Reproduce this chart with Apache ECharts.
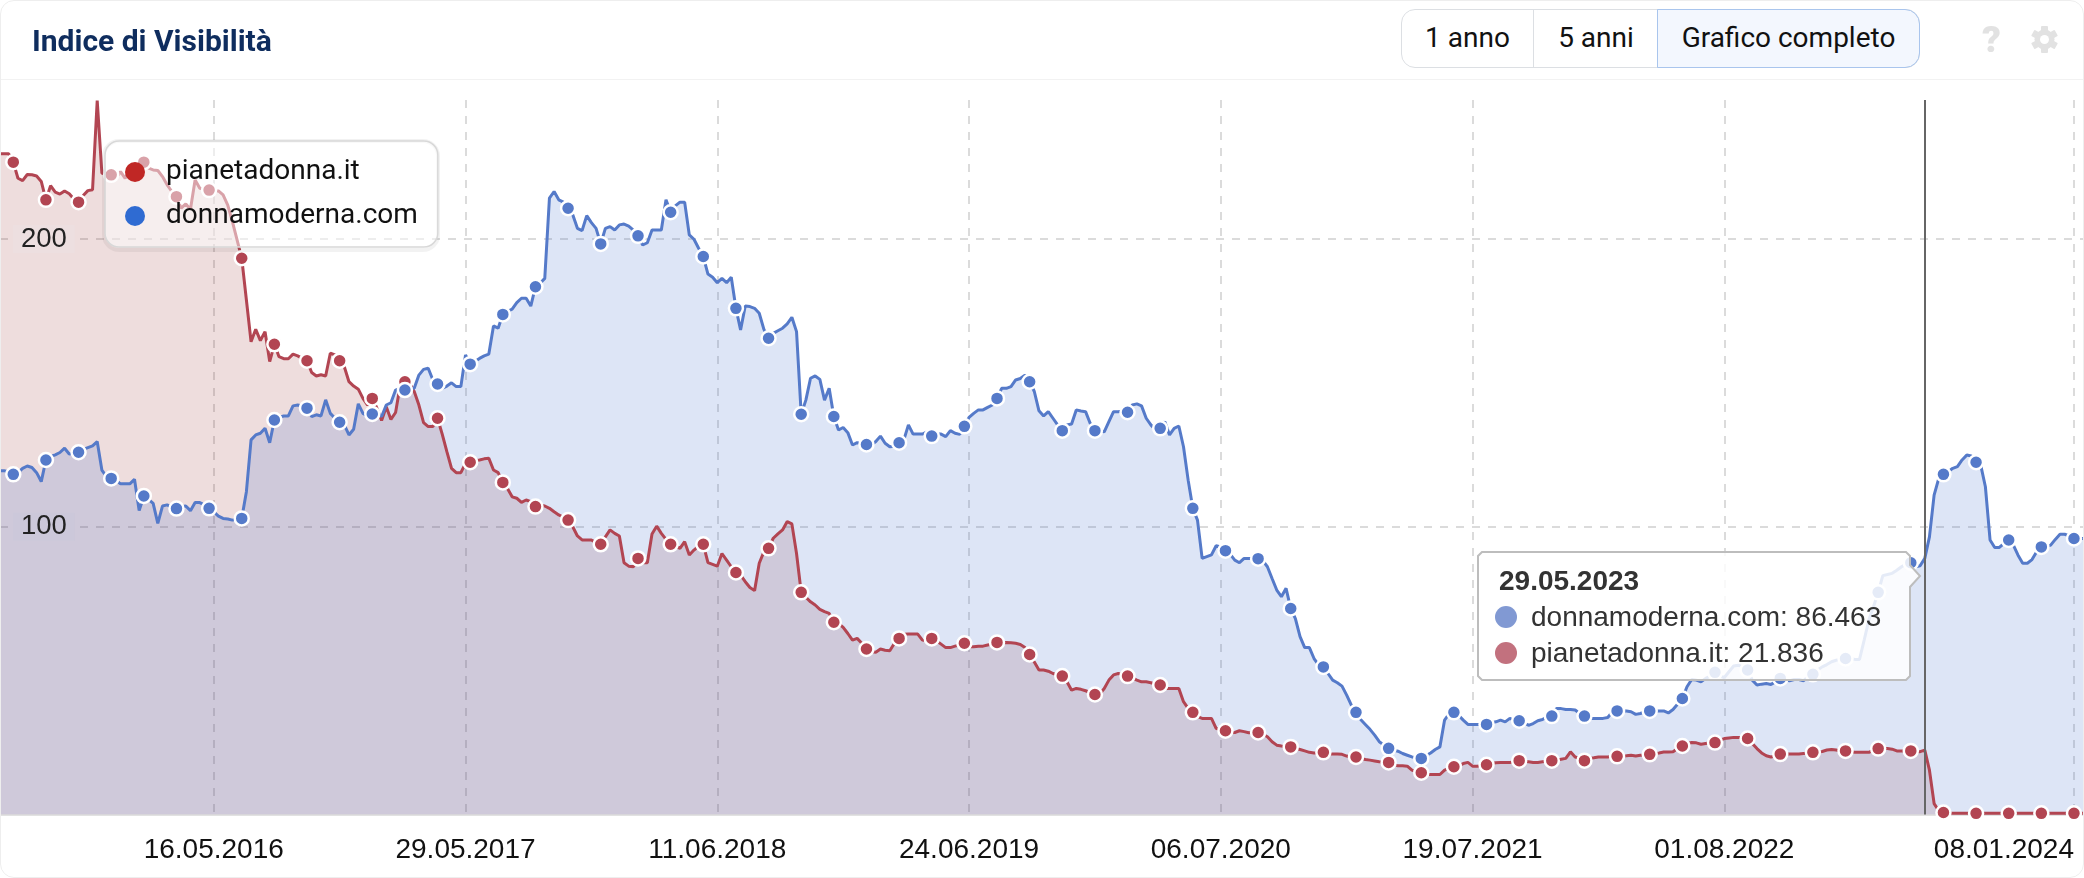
<!DOCTYPE html>
<html lang="it">
<head>
<meta charset="utf-8">
<title>Indice di Visibilità</title>
<script src="https://cdn.jsdelivr.net/npm/echarts@6/dist/echarts.min.js"></script>
<style>
  html, body { margin: 0; padding: 0; background: #fff; }
  #card { position: relative; width: 2084px; height: 878px; box-sizing: border-box; overflow: hidden; }
  #card-frame { position: absolute; inset: 0; border: 1px solid #eeeeee; border-radius: 14px; pointer-events: none; }
  #head-line { position: absolute; left: 0; right: 0; top: 79px; height: 1px; background: #f2f2f2; }
  #chart { position: absolute; left: 0; top: 0; width: 2084px; height: 878px; }
  .range { position: absolute; left: 1401px; top: 9px; width: 519px; height: 59px; display: flex; box-sizing: border-box;
           border: 1px solid #dcdfe3; border-radius: 14px; font: 28px Roboto, sans-serif; color: #111; background: #fff; }
  .range div { display: flex; align-items: center; justify-content: center; box-sizing: border-box; padding-bottom: 2px; }
  .range .a { width: 132px; border-right: 1px solid #dcdfe3; }
  .range .b { width: 124px; }
  .range .c { flex: 1; background: #f3f7fe; outline: 1px solid #a9c5ed; border-radius: 0 14px 14px 0; }
  #help { position: absolute; left: 1982px; top: 18px; font: 900 37px Roboto, sans-serif; color: #e2e2e2; }
  #gear { position: absolute; left: 2030px; top: 25px; width: 29px; height: 29px; }
</style>
</head>
<body>
<div id="card">
  <div id="chart"></div>
  <div id="head-line"></div>
  <div class="range"><div class="a">1 anno</div><div class="b">5 anni</div><div class="c">Grafico completo</div></div>
  <div id="help">?</div>
  <svg id="gear" viewBox="0 0 29 29">
    <g fill="#e2e2e2">
      <rect x="11" y="1" width="7" height="27" rx="1"/>
      <rect x="11" y="1" width="7" height="27" rx="1" transform="rotate(60 14.5 14.5)"/>
      <rect x="11" y="1" width="7" height="27" rx="1" transform="rotate(120 14.5 14.5)"/>
      <circle cx="14.5" cy="14.5" r="10"/>
    </g>
    <circle cx="14.5" cy="14.5" r="4.5" fill="#fff"/>
  </svg>
  <div id="card-frame"></div>
</div>
<script>
// settimane a partire dal 29.06.2015, un valore a settimana
const firstWeek = Date.UTC(2015, 5, 29);

const pianetadonna = [
  229.6,229.6,229.6,226.7,221.1,220.3,222.4,222.3,221.9,220,
  213.6,218.5,216.3,215.6,216.7,215.7,213.9,212.8,215.1,216.8,
  217.1,248.1,222.9,222.3,222.3,221.1,223.4,221.1,224.6,225.2,
  225.8,226.7,224.6,224,223.8,221.7,218.8,216.5,214.7,210.7,
  212.2,210.3,220.5,217.6,217.3,217,216.8,216.7,215.3,211.8,
  206,199.7,193.3,178.8,164.3,168.6,164.7,167.8,157.4,163.4,
  159.1,158.4,158.4,160,159.4,158.5,157.7,153.6,152.4,152.8,
  152.4,160.3,159.7,157.7,155.6,150.4,148.9,147.8,144.6,142.3,
  144.6,141.2,136.9,141.7,137.3,139.7,149.3,150.4,149.9,147,
  142.3,136.2,134.8,134.8,137.7,132.2,126.1,120.3,118.8,118.8,
  122,122.4,122.9,123.2,123.6,123.8,119.7,118.8,115.4,113.3,
  110.4,109.9,108.5,109.3,108.7,107,107.5,107.2,106.4,105.2,
  104.1,103.3,102.3,100,96.8,95.4,95.4,95.4,94.5,93.9,
  96.5,98.9,97.7,96.8,87.5,86.3,86.1,89,87.5,87.5,
  97.5,100.2,97.7,95.6,93.9,93.3,92.5,94.8,90.2,91.9,
  93.3,93.9,87.5,86.9,86.3,90.7,88.4,86.1,84.1,83.2,
  80.9,78.9,77.8,87.3,91.3,92.5,96,97.5,98.9,101.8,
  101,90.7,77.2,75.5,73.9,72.8,71.3,70.5,69.9,66.8,
  66.4,65,62.9,60.6,61.2,59.5,57.5,56.6,56.4,57.5,
  57.1,56.9,59.5,61.2,62.6,62.7,62.7,62.7,60.6,60.4,
  61.2,60.4,59.2,58,58,58.5,58.9,59.5,58.3,58.3,
  58.5,58.5,58.9,59.2,59.8,59.7,59.8,59.7,59.5,59.1,
  58,55.6,53,50.2,50.2,49.8,49,48.5,48.1,46.1,
  43.2,43.8,43.5,43,42.4,41.7,41.8,43.8,46.7,48.5,
  49,48.7,48.1,47.5,46.7,46.1,46.1,45.8,45.3,45,
  43.8,43.8,43.8,43.8,39.2,36.9,35.5,34,33.4,33.4,
  33.4,29.9,29.3,29.1,28.4,28.5,29.1,28.8,28.4,28.4,
  28.5,27.9,27,25.3,24.1,23.8,23.6,23.5,23,22.6,
  22.1,21.6,21.4,21.4,21.6,21,21,21,20.9,20.3,
  20,20,19.5,19.1,18.9,18.6,18.3,18.2,18.1,17.4,
  16.9,16.9,16.8,15.4,14.8,14.5,13.9,13.9,13.9,13.9,
  15.4,16,16.6,16.9,17.7,18.1,16.8,16.8,17,17.3,
  17.7,18,18.1,18.1,18.1,18.3,18.7,18.5,18.3,18.1,
  18.1,18.3,18.5,18.7,18.9,19.2,19.5,21.8,20,19.5,
  18.7,19.5,19.7,20,20,20,20.2,20.2,20.3,20.4,
  20.6,20.3,20.6,20.6,20.9,21.2,21.4,21.7,21.7,21.8,
  22.9,23.8,24.7,25,24.9,24.4,24.7,24.9,25,25.8,
  26.4,26.6,26.8,26.8,26.8,26.4,24.7,22.9,21.4,20.4,
  20,20.3,21,21,21,21,21,21.2,21.4,21.6,
  21.7,21.9,22.4,22.6,22.4,22.1,22.1,21.8,21.6,21.6,
  21.6,21.6,22.4,22.9,22.9,22.9,22.7,22.1,22.1,22.1,
  22.1,21.8,21.836,22.4,15.4,3.8,1.3,0.7,0.5,0.4,
  0.4,0.4,0.4,0.4,0.4,0.4,0.4,0.4,0.4,0.4,
  0.4,0.4,0.4,0.4,0.4,0.4,0.4,0.4,0.4,0.4,
  0.4,0.4,0.4,0.4,0.4,0.4,0.4,0.4
];

const donnamoderna = [
  119.5,119.5,119.1,118.2,118.8,120.3,121.1,120.6,118.8,115.7,
  123.2,124.4,125,125.8,127.3,125.3,125.5,125.9,126.9,127.5,
  128.1,129.6,119.7,117.4,116.8,116.2,114.9,114.9,114.9,116.5,
  105.6,110.7,109.5,108.1,101.2,107.2,107.6,106.8,106.3,107,
  107.2,105.6,108.4,108.4,107.6,106.4,105.2,103.7,102.9,102.7,
  102.3,102.6,102.9,112.2,130.2,131.9,132.5,134.2,129.2,137.1,
  138,138.5,138.5,142,142.3,142,141.2,138.3,138.9,138.5,
  144.1,139.4,137.7,136.3,135.4,131.9,133.9,142.7,139.4,138.5,
  139.2,139.4,138.3,142.3,143.1,147.5,148.1,147.5,148.1,148.1,
  152.7,154.7,155.1,151,149.6,148.1,148.9,150,148.7,148.7,
  159.7,156.5,157.4,158.5,159.4,160,169.8,169,173.8,174.8,
  175.6,177.9,179.4,179.4,176.7,183.4,184.6,186.3,214.2,216.5,
  213.6,212.8,210.7,208.4,203.7,202.9,208.1,205.7,203.7,198.3,
  203.7,204.3,203.1,204.9,205.2,204.5,203.1,201.1,197.9,198.7,
  203.1,203.1,203.1,213.6,209.3,211.5,212.8,212.8,201.4,199.9,
  196.8,193.9,187.8,186.7,184.8,186.3,184.8,186.7,175.9,168.4,
  176.7,176.5,175.9,174.2,168.6,165.5,167.2,168.1,169,170.5,
  172.8,167.8,139.1,144,151.6,152.4,151.2,144,148.1,138.3,
  133.6,134.5,132.7,128.4,129.2,129,128.6,128.4,129.6,131.5,
  129,127.8,128,129.2,130.1,135.4,132.2,132.2,132.2,133,
  131.5,132.2,132.2,131.3,133.4,132.5,132.1,134.9,138,139.4,
  140.6,140.6,141.5,142.3,144.6,148.1,148.1,148.7,151,151.5,
  152.7,150.4,147,140.3,138.5,140,137.7,135.4,133.4,135.4,
  135.7,140.6,140.2,140,135.9,133.4,133.3,133,136.5,140,
  140,140.2,139.8,142.3,142.7,142,137.7,135.4,133.6,134.2,
  136.5,131.9,134.2,135,127.8,116.2,106.4,102.3,89,89.6,
  90.2,93.4,93,91.7,90.5,88.4,87.5,89,89,89,
  88.9,88.2,86.1,82,78,75.7,78.6,71.6,68.1,61.8,
  58,58,54.2,51.9,51.3,49,46.7,45.8,44.6,41.5,
  38,35.5,33,31.3,29.6,27.6,25.3,24.1,23,22.4,
  22,21.2,20.6,20,19.8,19.5,20.4,21.4,22.6,23.5,
  32.8,35.1,35.5,34.5,32.8,31.3,31.3,31.3,31.3,31.3,
  31.9,32.2,32.8,32.2,33.4,32.8,32.6,31.9,31,31.6,
  32.6,33,34,34.2,36.8,36.8,36.5,36.5,36.3,35.1,
  34.2,33.4,33.4,33.4,33.4,33.7,35.7,36,36,36,
  35.7,34.8,35.1,35.7,36,36,36,36,35.3,36.5,
  38.4,40.3,44.4,46.9,46.7,46.1,47.3,48.1,49.4,48.2,
  47.6,49.6,51.6,51.9,51.3,50.2,46.7,45,45.3,45.5,
  45.2,46.1,47.3,46.7,46.5,46.9,46.9,46.5,47.9,48.7,
  50.2,51.3,52.1,53.1,53.6,54,54.2,54.2,53.9,53.9,
  60.6,67.6,72.2,77.2,83,83.4,83.8,84.9,86.1,87,
  87.5,86.1,86.463,89,96.5,111,116.8,118.2,119.1,120.3,
  120.9,123.2,124.9,124.6,122.4,121.4,113.9,95.4,92.8,92.8,
  94.2,95.4,93.6,90.1,87.3,87.3,88.6,91.3,93,93,
  93.6,95.6,97.4,97.4,96.8,95.9,95.9,95.9
];

// settimane con il pallino
const markerWeeks = [
  3,10,17,24,31,38,45,52,59,66,73,80,87,94,101,108,115,122,129,
  137,144,151,158,165,172,179,186,193,200,207,214,221,228,235,242,249,256,263,270,
  277,284,291,298,305,312,319,326,333,340,347,354,361,368,375,382,389,396,403,410,
  417,424,431,438,445
];

const xTicks = ['2016-05-16','2017-05-29','2018-06-11','2019-06-24','2020-07-06','2021-07-19','2022-08-01','2024-01-08'];
const yTicks = [100, 200];
const hoverDate = '2023-05-29';
const hoverWeek = 412;
const hoverLabel = '29.05.2023';
const titleText = 'Indice di Visibilità';
const redName = 'pianetadonna.it';
const blueName = 'donnamoderna.com';

const week = 7 * 24 * 3600 * 1000;
const toTime = function (d) { return new Date(d + 'T00:00:00Z').getTime(); };
const pad = function (n) { return (n < 10 ? '0' : '') + n; };
const fmtDate = function (t) {
  let d = new Date(t);
  return pad(d.getUTCDate()) + '.' + pad(d.getUTCMonth() + 1) + '.' + d.getUTCFullYear();
};
const weekly = function (values) {
  return values.map(function (v, i) { return [firstWeek + i * week, v]; });
};
const markers = function (values) {
  return markerWeeks.map(function (w) { return [firstWeek + w * week, values[w]]; });
};
const fmtValue = function (v) { return v.toFixed(3); };

const redLine = '#b24552', blueLine = '#557ac9';

function areaSeries(name, values, color, opacity) {
  return {
    name: name, type: 'line', data: weekly(values), showSymbol: false, silent: true,
    lineStyle: { width: 0 }, itemStyle: { color: color }, z: 2,
    areaStyle: { color: color, opacity: opacity }
  };
}
function lineSeries(name, values, color, extra) {
  return Object.assign({
    name: name, type: 'line', data: weekly(values), showSymbol: false, silent: true,
    lineStyle: { width: 3, color: color }, itemStyle: { color: color }, z: 3
  }, extra || {});
}
function markerSeries(name, values, color) {
  return {
    name: name, type: 'scatter', data: markers(values), symbol: 'circle', symbolSize: 14, silent: true,
    itemStyle: { color: color, borderColor: '#fff', borderWidth: 2.5, opacity: 1 }, z: 4
  };
}

// riquadro del tooltip con la freccia verso il punto
const boxPoints = [[1482,552],[1906,552],[1910,556],[1910,565],[1920,576],[1910,587],[1910,676],[1906,680],[1482,680],[1478,676],[1478,556]];

const chart = echarts.init(document.getElementById('chart'));
chart.setOption({
  animation: false,
  title: {
    text: titleText, left: 27, top: 23,
    textStyle: { fontFamily: 'Roboto', fontSize: 30, fontWeight: 'bold', color: '#0f2d5e' }
  },
  legend: {
    left: 105, top: 141, orient: 'vertical', selectedMode: false, z: 10,
    padding: [17, 20, 17, 20], itemGap: 16, itemWidth: 20, itemHeight: 20,
    backgroundColor: 'rgba(255,255,255,0.5)', borderColor: '#d8d8d8', borderWidth: 1.5, borderRadius: 14,
    textStyle: { fontFamily: 'Roboto', fontSize: 28, color: '#111', padding: [0, 0, 0, 16] },
    data: [
      { name: redName, icon: 'circle', itemStyle: { color: '#c02725' } },
      { name: blueName, icon: 'circle', itemStyle: { color: '#2f6bd2' } }
    ]
  },
  grid: { left: 0, right: 0, top: 100, bottom: 63.5 },
  xAxis: {
    type: 'value',
    min: firstWeek + 0.15 * week,
    max: firstWeek + 447.15 * week,
    axisLine: { show: true, onZero: false, lineStyle: { color: '#e2e2e2', width: 2 } },
    axisTick: { show: false, customValues: xTicks.map(toTime) },
    splitLine: { show: true, lineStyle: { color: 'rgba(190,190,190,0.55)', width: 2, type: [8, 8] } },
    axisLabel: {
      customValues: xTicks.map(toTime),
      formatter: function (v) { return fmtDate(v); },
      fontFamily: 'Liberation Sans', fontSize: 28, color: '#111', margin: 22,
      alignMaxLabel: 'right', hideOverlap: false
    }
  },
  yAxis: [{
    type: 'value', min: 0, max: 248.3,
    axisLine: { show: false }, axisTick: { show: false, customValues: yTicks },
    axisLabel: { show: false, customValues: yTicks },
    splitLine: { show: true, lineStyle: { color: 'rgba(190,190,190,0.55)', width: 2, type: [8, 8] } }
  }, {
    // solo etichette, sopra le aree
    type: 'value', min: 0, max: 248.3, position: 'left', z: 5,
    axisLine: { show: false }, axisTick: { show: false }, splitLine: { show: false },
    axisLabel: {
      customValues: yTicks, inside: true, margin: 13,
      formatter: function (v) { return '{y' + v + '|' + v + '}'; },
      rich: {
        y100: { backgroundColor: '#ccc8da', padding: [0, 8], fontFamily: 'Liberation Sans', fontSize: 27.5, color: '#222' },
        y200: { backgroundColor: '#eddfe0', padding: [0, 8], fontFamily: 'Liberation Sans', fontSize: 27.5, color: '#222' }
      }
    }
  }],
  series: [
    areaSeries('area-pianetadonna', pianetadonna, 'rgb(140,30,30)', 0.15),
    areaSeries('area-donnamoderna', donnamoderna, '#3366cc', 0.17),
    lineSeries(redName, pianetadonna, redLine),
    lineSeries(blueName, donnamoderna, blueLine, {
      markLine: {
        silent: true, symbol: 'none', label: { show: false },
        lineStyle: { color: '#666', width: 2, type: 'solid' },
        data: [{ xAxis: toTime(hoverDate) }]
      }
    }),
    markerSeries('punti-pianetadonna', pianetadonna, redLine),
    markerSeries('punti-donnamoderna', donnamoderna, blueLine)
  ],
  graphic: [
    // ombra leggera attorno alla legenda
    { type: 'rect', z: 9, silent: true, shape: { x: 104, y: 141, width: 334, height: 109, r: 15 },
      style: { fill: 'none', stroke: 'rgba(0,0,0,0.05)', lineWidth: 4 } },
    { type: 'polygon', z: 100, silent: true, shape: { points: boxPoints }, style: { fill: 'rgba(255,255,255,0.85)', stroke: '#bdbdbd', lineWidth: 2 } },
    { type: 'text', z: 101, silent: true, x: 1499, y: 582, style: { text: hoverLabel, font: 'bold 28px "Liberation Sans"', fill: '#333', verticalAlign: 'middle' } },
    { type: 'circle', z: 101, silent: true, shape: { cx: 1506, cy: 617, r: 11 }, style: { fill: '#8199d3' } },
    { type: 'text', z: 101, silent: true, x: 1531, y: 618, style: { text: blueName + ': ' + fmtValue(donnamoderna[hoverWeek]), font: '28px "Liberation Sans"', fill: '#333', verticalAlign: 'middle' } },
    { type: 'circle', z: 101, silent: true, shape: { cx: 1506, cy: 653, r: 11 }, style: { fill: '#c2717e' } },
    { type: 'text', z: 101, silent: true, x: 1531, y: 654, style: { text: redName + ': ' + fmtValue(pianetadonna[hoverWeek]), font: '28px "Liberation Sans"', fill: '#333', verticalAlign: 'middle' } }
  ]
});
</script>
</body>
</html>
